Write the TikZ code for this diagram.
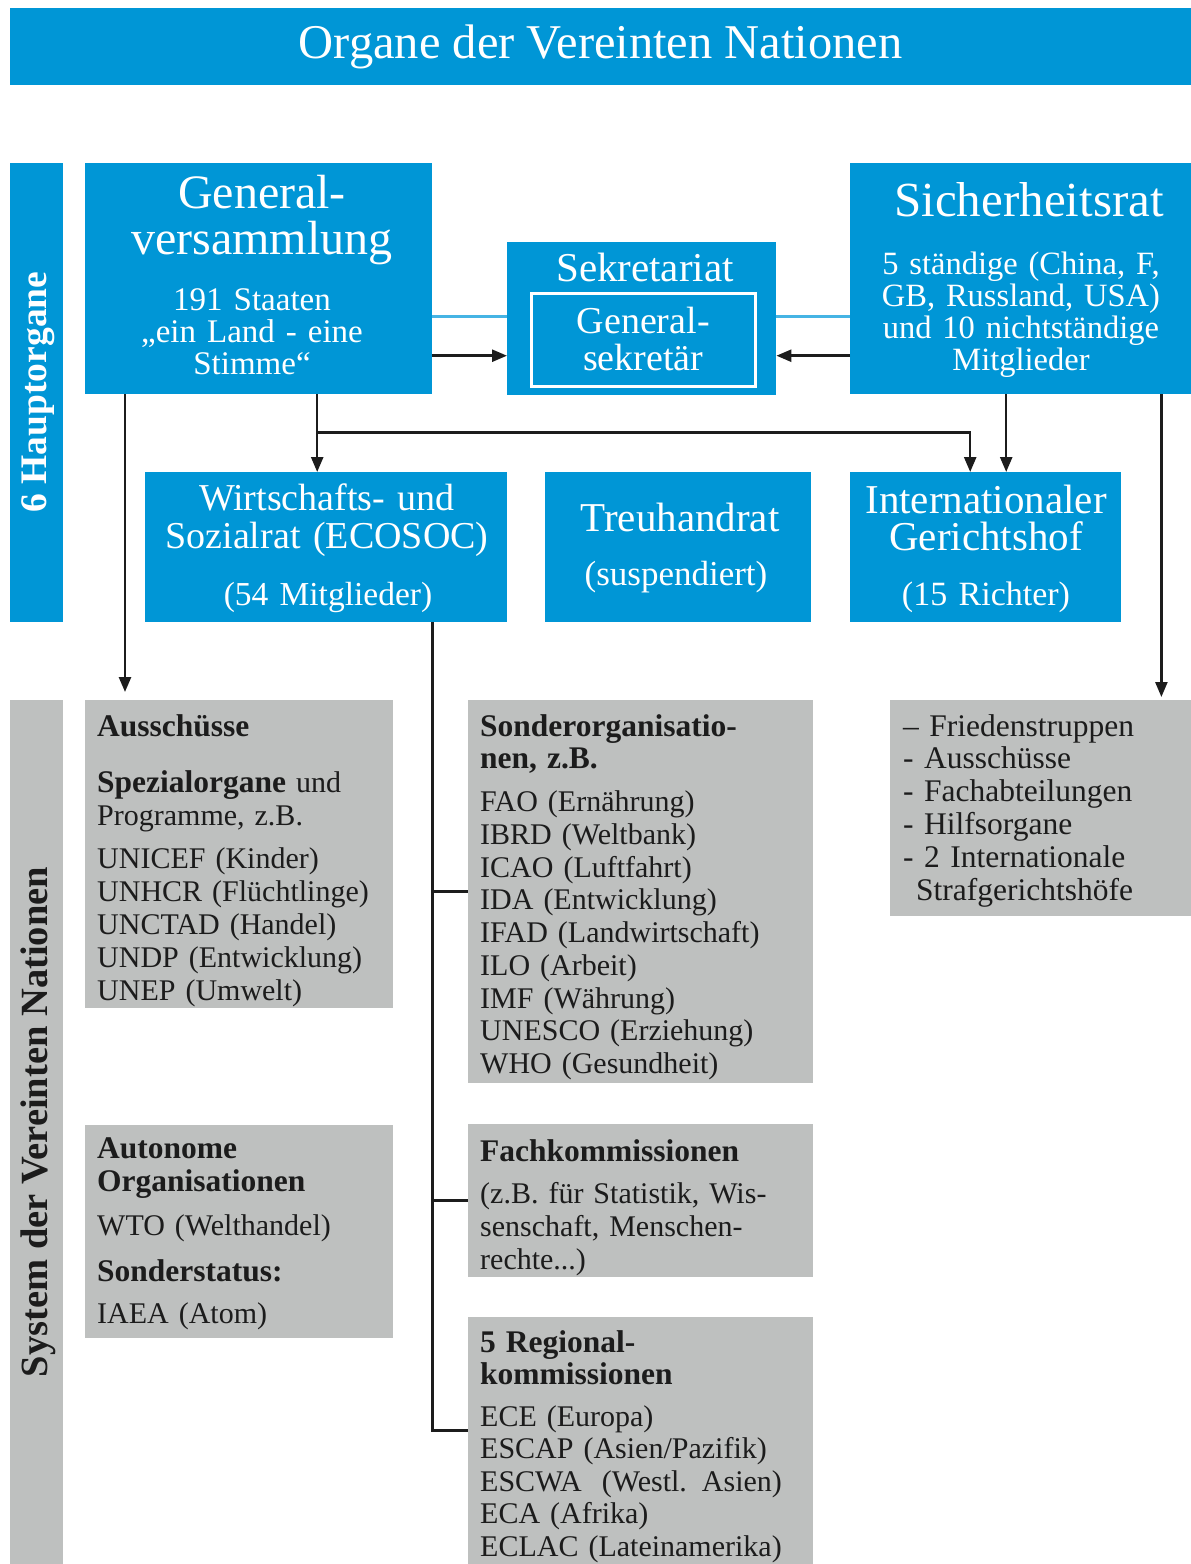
\documentclass[tikz,border=0pt]{standalone}
\usepackage{fontspec}
\setmainfont{Liberation Serif}
\usepackage{tikz}
\usetikzlibrary{positioning, arrows.meta, calc}

\definecolor{unblue}{RGB}{0,150,214}
\definecolor{ungrey}{RGB}{190,192,191}
\definecolor{unline}{RGB}{70,180,228}
\definecolor{unblack}{RGB}{28,28,28}

\newcommand{\fs}[2]{\fontsize{#1}{#2}\selectfont}
\newcommand{\bh}[1]{{\fontsize{31.5}{33}\selectfont\bfseries #1}}

\begin{document}
\begin{tikzpicture}[x=1pt, y=-1pt,
    bluebox/.style={fill=unblue, anchor=north west, inner sep=0pt},
    greybox/.style={fill=ungrey, anchor=north west, inner sep=0pt},
    headtxt/.style={text=white, anchor=base, align=center, inner sep=0pt, text width=340pt},
    listtxt/.style={text=unblack, anchor=base west, align=left, inner sep=0pt, text width=330pt},
    arr/.style={draw=unblack, line width=2.5pt, -{Triangle[length=15pt, width=12pt]}},
    trunk/.style={draw=unblack, line width=2.5pt},
    blueline/.style={draw=unline, line width=2.5pt}
]
\useasboundingbox (0,0) rectangle (1191,1564);

% Titel
\node[bluebox, minimum width=1181pt, minimum height=77pt, text=white, font=\fs{48.5}{50}] (titel) at (10,8) {Organe der Vereinten Nationen};

% Seitenleisten
\node[bluebox, minimum width=53pt, minimum height=459pt] (haupt) at (10,163) {};
\node[text=white, rotate=90, font=\fs{37.5}{40}\bfseries] (haupttxt) at (38,392) {6 Hauptorgane};
\node[greybox, minimum width=53pt, minimum height=864pt] (system) at (10,700) {};
\node[text=unblack, rotate=90, font=\fs{38.5}{40}\bfseries] (systemtxt) at (38,1122) {System der Vereinten Nationen};

% Hauptorgane
\node[bluebox, minimum width=347pt, minimum height=231pt] (gv) at (85,163) {};
\node[headtxt, font=\fs{48}{46}] (gvkopf) at (262,208) {General-\\versammlung};
\node[headtxt, font=\fs{33}{32}] (gvtxt) at (252,310) {191 Staaten\\„ein Land - eine\\Stimme“};

\node[bluebox, minimum width=269pt, minimum height=153pt] (sek) at (507,242) {};
\node[headtxt, text width=260pt, font=\fs{41}{40}] (sekkopf) at (645,281) {Sekretariat};
\node[draw=white, line width=2.5pt, anchor=north west, minimum width=224pt, minimum height=93pt] (gs) at (530,292) {};
\node[headtxt, text width=220pt, font=\fs{38}{37}] (gstxt) at (gs.center |- 0,333) {General-\\sekretär};

\node[bluebox, minimum width=341pt, minimum height=231pt] (sr) at (850,163) {};
\node[headtxt, font=\fs{49}{46}] (srkopf) at (1029,216) {Sicherheitsrat};
\node[headtxt, font=\fs{32.5}{32}] (srtxt) at (1021,274) {5 ständige (China, F,\\GB, Russland, USA)\\und 10 nichtständige\\Mitglieder};

\node[bluebox, minimum width=362pt, minimum height=150pt] (ecosoc) at (145,472) {};
\node[headtxt, text width=355pt, font=\fs{38}{38}] (ecokopf) at (327,510) {Wirtschafts- und\\Sozialrat (ECOSOC)};
\node[headtxt, font=\fs{33.5}{36}] (ecotxt) at (328,605) {(54 Mitglieder)};

\node[bluebox, minimum width=266pt, minimum height=150pt] (treu) at (545,472) {};
\node[headtxt, text width=260pt, font=\fs{41}{38}] (treukopf) at (680,531) {Treuhandrat};
\node[headtxt, text width=260pt, font=\fs{35}{36}] (treutxt) at (676,585) {(suspendiert)};

\node[bluebox, minimum width=271pt, minimum height=150pt] (igh) at (850,472) {};
\node[headtxt, text width=268pt, font=\fs{41}{37}] (ighkopf) at (986,513) {Internationaler\\Gerichtshof};
\node[headtxt, text width=268pt, font=\fs{34}{36}] (ightxt) at (986,605) {(15 Richter)};

% System der VN
\node[greybox, minimum width=308pt, minimum height=308pt] (aus) at (85,700) {};
\node[listtxt, font=\fs{30}{33}] (austxt) at (97,736) {\bh{Ausschüsse}\\[23pt]
    \bh{Spezialorgane} und\\Programme, z.B.\\[10pt]
    UNICEF (Kinder)\\UNHCR (Flüchtlinge)\\UNCTAD (Handel)\\UNDP (Entwicklung)\\UNEP (Umwelt)};

\node[greybox, minimum width=308pt, minimum height=213pt] (auto) at (85,1125) {};
\node[listtxt, font=\fs{30}{33}] (autotxt) at (97,1158) {\bh{Autonome}\\\bh{Organisationen}\\[11pt]
    WTO (Welthandel)\\[13pt]\bh{Sonderstatus:}\\[9pt]IAEA (Atom)};

\node[greybox, minimum width=345pt, minimum height=383pt] (sonder) at (468,700) {};
\node[listtxt, font=\fs{30}{32.75}] (sondertxt) at (480,736) {\bh{Sonderorganisatio-}\\\bh{nen, z.B.}\\[10pt]
    FAO (Ernährung)\\IBRD (Weltbank)\\ICAO (Luftfahrt)\\IDA (Entwicklung)\\IFAD (Landwirtschaft)\\
    ILO (Arbeit)\\IMF (Währung)\\UNESCO (Erziehung)\\WHO (Gesundheit)};

\node[greybox, minimum width=345pt, minimum height=153pt] (fach) at (468,1124) {};
\node[listtxt, font=\fs{30}{33}] (fachtxt) at (480,1161) {\bh{Fachkommissionen}\\[9pt]
    (z.B. für Statistik, Wis-\\senschaft, Menschen-\\rechte...)};

\node[greybox, minimum width=345pt, minimum height=247pt] (regio) at (468,1317) {};
\node[listtxt, font=\fs{30}{32.5}] (regiotxt) at (480,1352) {\bh{5 Regional-}\\\bh{kommissionen}\\[9pt]
    ECE (Europa)\\ESCAP (Asien/Pazifik)\\ESCWA\ \ (Westl. Asien)\\ECA (Afrika)\\ECLAC (Lateinamerika)};

\node[greybox, minimum width=301pt, minimum height=216pt] (srgrey) at (890,700) {};
\node[listtxt, text width=290pt, font=\fs{31.5}{32.8}] (srgreytxt) at (903,736) {– Friedenstruppen\\- Ausschüsse\\- Fachabteilungen\\
    - Hilfsorgane\\- 2 Internationale\\\hspace*{13pt}Strafgerichtshöfe};

% Verbindungen
\draw[blueline] ([yshift=-38pt]gv.east) -- ([yshift=-38pt]gv.east -| sek.west);
\draw[blueline] ([yshift=-38pt]sr.west) -- ([yshift=-38pt]sr.west -| sek.east);
\draw[arr] ([yshift=-77pt]gv.east) -- ([yshift=-77pt]gv.east -| sek.west);
\draw[arr] ([yshift=-77pt]sr.west) -- ([yshift=-77pt]sr.west -| sek.east);

\coordinate (gvab) at ([xshift=58.5pt]gv.south);
\draw[arr] (gvab) -- (gvab |- ecosoc.north);
\draw[arr] ($(gvab)!0.49!(gvab |- ecosoc.north)$) -| ([xshift=-15.5pt]igh.north);
\draw[arr] ([xshift=20.5pt]igh.north |- sr.south) -- ([xshift=20.5pt]igh.north);
\draw[arr, shorten >=8pt] ([xshift=40pt]gv.south west) -- ([xshift=40pt]aus.north west);
\draw[arr, shorten >=3pt] ([xshift=-30pt]sr.south east) -- ([xshift=-30pt]srgrey.north east);

\coordinate (stamm) at ([xshift=-75pt]ecosoc.south east);
\draw[trunk] (stamm) |- ([yshift=10pt]regio.west);
\draw[trunk] (stamm |- sonder.west) -- (sonder.west);
\draw[trunk] (stamm |- fach.west) -- (fach.west);
\end{tikzpicture}
\end{document}
